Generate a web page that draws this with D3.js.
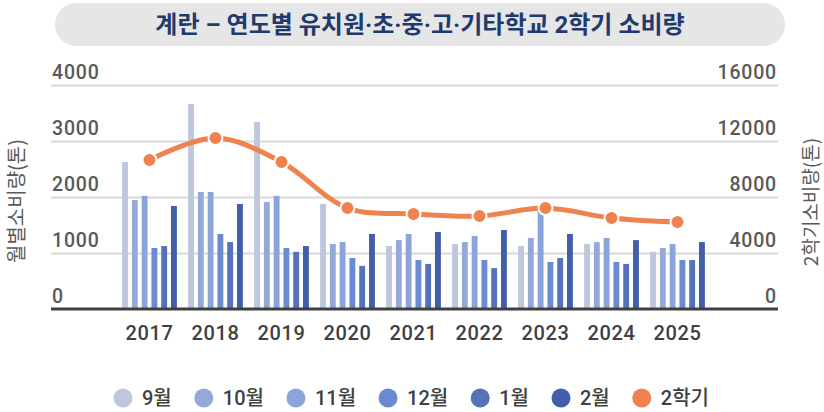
<!DOCTYPE html>
<html>
<head>
<meta charset="utf-8">
<script src="https://cdn.jsdelivr.net/npm/d3@7"></script>
<style>
  body { margin: 0; background: #fff; }
  svg { display: block; font-family: Roboto, "Noto Sans CJK KR", sans-serif; }
</style>
</head>
<body>
<svg id="chart" width="824" height="412"></svg>
<script>
const years = ['2017', '2018', '2019', '2020', '2021', '2022', '2023', '2024', '2025']
const months = ['9월', '10월', '11월', '12월', '1월', '2월']

// monthly consumption (톤), one array per month, ordered by year
const sep = [2625, 3660, 3340, 1875, 1125, 1160, 1125, 1160, 1020]
const oct = [1945, 2090, 1910, 1160, 1230, 1195, 1270, 1195, 1090]
const nov = [2020, 2090, 2020, 1195, 1340, 1305, 1750, 1270, 1160]
const dec = [1090, 1340, 1090, 910, 875, 875, 840, 840, 875]
const jan = [1125, 1195, 1020, 770, 805, 730, 910, 805, 875]
const feb = [1840, 1875, 1125, 1340, 1375, 1410, 1340, 1230, 1195]

// 2학기 total (톤)
const semester = [10640, 12210, 10500, 7210, 6790, 6640, 7210, 6500, 6210]

const leftTicks = [0, 1000, 2000, 3000, 4000]
const rightTicks = [0, 4000, 8000, 12000, 16000]

const monthColors = ['#bfc7dd', '#95a9d9', '#8ba4dc', '#6a8bd0', '#5573b8', '#3f5fa9']
const lineColor = '#ef8350'

const series = [sep, oct, nov, dec, jan, feb]
const rows = years.map((y, i) => ({year: y, values: months.map((m, j) => ({month: m, value: series[j][i]}))}))

let svg = d3.select('#chart')

let plotLeft = 51, plotRight = 778
let plotTop = 85, plotBottom = 309

let x0 = d3.scaleBand().domain(years).range([116.5, 710.5]).paddingInner(0.17).paddingOuter(0.085)
let x1 = d3.scaleBand().domain(months).range([0, x0.bandwidth()]).paddingInner(0.4)
let yL = d3.scaleLinear().domain([0, 4000]).range([plotBottom, plotTop])
let yR = d3.scaleLinear().domain([0, 16000]).range([plotBottom, plotTop])

// title pill
svg.append('rect')
    .attr('x', 55).attr('y', 3)
    .attr('width', 730).attr('height', 43)
    .attr('rx', 21.5)
    .attr('fill', '#e6e6e6')
svg.append('text')
    .attr('x', 420).attr('y', 25)
    .attr('text-anchor', 'middle')
    .attr('dominant-baseline', 'central')
    .attr('font-family', 'Roboto, "Noto Sans CJK KR", sans-serif')
    .attr('font-weight', 700)
    .attr('font-size', 24)
    .attr('fill', '#1f3a6e')
    .text('계란 – 연도별 유치원·초·중·고·기타학교 2학기 소비량')

// gridlines
svg.append('g')
    .attr('transform', `translate(${plotRight},0)`)
    .call(d3.axisLeft(yL).tickValues(leftTicks.filter(d => d > 0)).tickSize(plotRight - plotLeft).tickFormat(''))
    .call(g => g.select('.domain').remove())
    .call(g => g.selectAll('line').attr('stroke', '#d9d9d9').attr('stroke-width', 2))

// left tick labels (above gridlines)
svg.append('g')
    .attr('transform', `translate(${plotLeft + 1},0)`)
    .call(d3.axisRight(yL).tickValues(leftTicks).tickFormat(d3.format('d')).tickSize(0).tickPadding(0))
    .call(g => g.select('.domain').remove())
    .call(g => g.selectAll('text')
        .attr('dy', -7)
        .attr('font-family', 'Roboto, sans-serif')
        .attr('font-size', 19.5)
        .attr('font-weight', 500)
        .attr('letter-spacing', 0.8)
        .attr('fill', '#595959'))

// right tick labels
svg.append('g')
    .attr('transform', `translate(${plotRight - 1},0)`)
    .call(d3.axisLeft(yR).tickValues(rightTicks).tickFormat(d3.format('d')).tickSize(0).tickPadding(0))
    .call(g => g.select('.domain').remove())
    .call(g => g.selectAll('text')
        .attr('dy', -7)
        .attr('font-family', 'Roboto, sans-serif')
        .attr('font-size', 19.5)
        .attr('font-weight', 500)
        .attr('letter-spacing', 0.8)
        .attr('fill', '#595959'))

// bars
let groups = svg.append('g')
    .selectAll('g')
    .data(rows)
    .join('g')
        .attr('transform', d => `translate(${x0(d.year)},0)`)

groups.selectAll('rect')
    .data(d => d.values)
    .join('rect')
        .attr('x', d => x1(d.month))
        .attr('y', d => yL(d.value))
        .attr('width', x1.bandwidth())
        .attr('height', d => plotBottom - yL(d.value))
        .attr('fill', (d, i) => monthColors[i])

// baseline
svg.append('line')
    .attr('x1', plotLeft).attr('x2', plotRight)
    .attr('y1', plotBottom).attr('y2', plotBottom)
    .attr('stroke', '#404040')
    .attr('stroke-width', 3)

// x axis labels
svg.append('g')
    .attr('transform', `translate(0,${plotBottom})`)
    .call(d3.axisBottom(x0).tickSize(0).tickPadding(17))
    .call(g => g.select('.domain').remove())
    .call(g => g.selectAll('text')
        .attr('font-family', 'Roboto, sans-serif')
        .attr('font-size', 20)
        .attr('font-weight', 500)
        .attr('letter-spacing', 0.6)
        .attr('fill', '#404040'))

// semester line
let cx = d => x0(d) + x0.bandwidth() / 2
let pts = years.map((y, i) => [cx(y), yR(semester[i])])

svg.append('path')
    .attr('d', d3.line().curve(d3.curveCatmullRom.alpha(0.5))(pts))
    .attr('fill', 'none')
    .attr('stroke', lineColor)
    .attr('stroke-width', 5)

svg.append('g')
    .selectAll('circle')
    .data(pts)
    .join('circle')
        .attr('cx', d => d[0])
        .attr('cy', d => d[1])
        .attr('r', 7)
        .attr('fill', lineColor)
        .attr('stroke', '#fff')
        .attr('stroke-width', 2)

// axis titles
svg.append('text')
    .attr('transform', 'translate(15,201) rotate(-90)')
    .attr('text-anchor', 'middle')
    .attr('dominant-baseline', 'central')
    .attr('font-family', '"Noto Sans CJK KR", sans-serif')
    .attr('font-size', 20)
    .attr('fill', '#595959')
    .text('월별소비량(톤)')

svg.append('text')
    .attr('transform', 'translate(809,202) rotate(-90)')
    .attr('text-anchor', 'middle')
    .attr('dominant-baseline', 'central')
    .attr('font-family', '"Noto Sans CJK KR", sans-serif')
    .attr('font-size', 19)
    .attr('fill', '#595959')
    .text('2학기소비량(톤)')

// legend
let legendItems = months.map((m, i) => ({label: m, color: monthColors[i]}))
legendItems.push({label: '2학기', color: lineColor})

let legend = svg.append('g').attr('transform', 'translate(0,398)')
let cursor = 123
legendItems.forEach(item => {
    legend.append('circle')
        .attr('cx', cursor).attr('cy', 0)
        .attr('r', 9.5)
        .attr('fill', item.color)
    let t = legend.append('text')
        .attr('x', cursor + 19).attr('y', 0)
        .attr('dominant-baseline', 'central')
        .attr('font-size', 20)
        .attr('font-weight', 500)
        .attr('fill', '#404040')
        .text(item.label)
    cursor = cursor + 19 + t.node().getComputedTextLength() + 32
})
</script>
</body>
</html>
